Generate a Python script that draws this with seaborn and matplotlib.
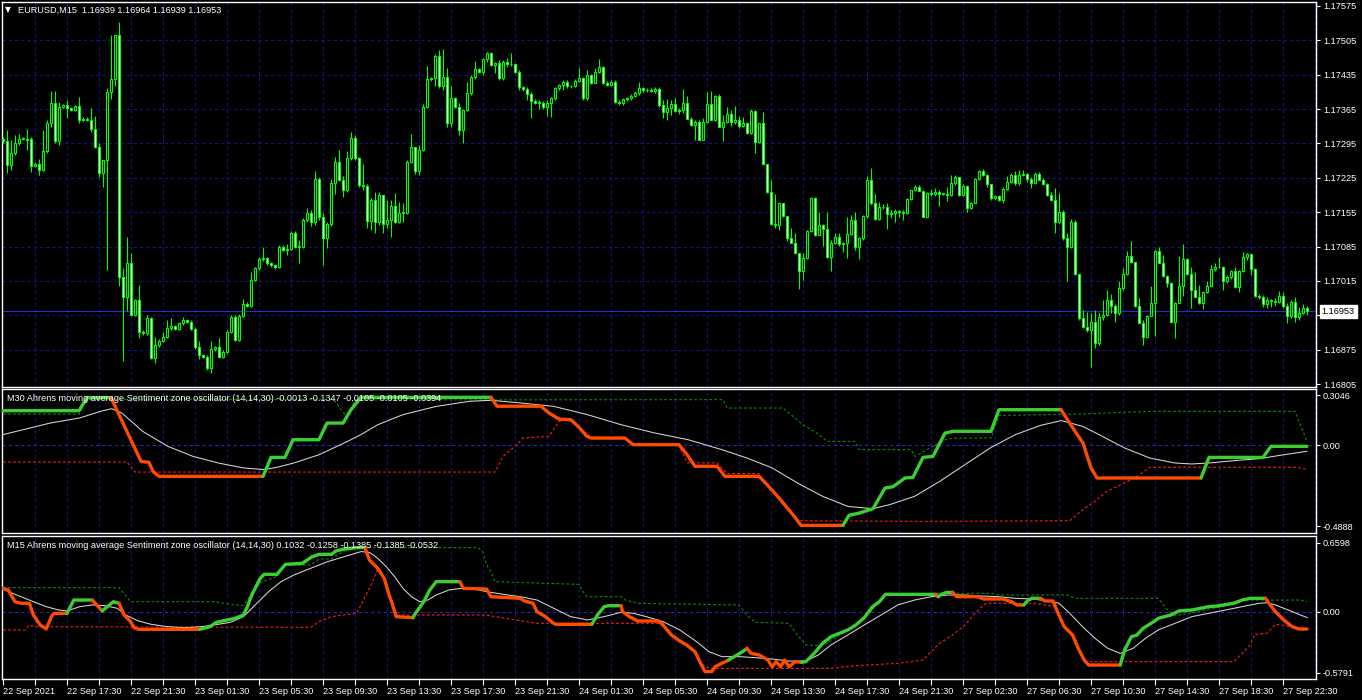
import matplotlib
matplotlib.use("Agg")
import matplotlib.pyplot as plt
import numpy as np
import seaborn as sns

sns.set_theme(style="dark", rc={"axes.facecolor": "black", "figure.facecolor": "black"})
plt.rcParams["font.family"] = ["Liberation Sans", "DejaVu Sans"]

# ---------------- data ----------------
symbol_title = "EURUSD,M15  1.16939 1.16964 1.16939 1.16953"
m30_title = ("M30 Ahrens moving average Sentiment zone oscillator (14,14,30) "
             "-0.0013 -0.1347 -0.0105 -0.0105 -0.0394")
m15_title = ("M15 Ahrens moving average Sentiment zone oscillator (14,14,30) "
             "0.1032 -0.1258 -0.1385 -0.1385 -0.0532")

time_labels = ["22 Sep 2021", "22 Sep 17:30", "22 Sep 21:30", "23 Sep 01:30", "23 Sep 05:30",
               "23 Sep 09:30", "23 Sep 13:30", "23 Sep 17:30", "23 Sep 21:30", "24 Sep 01:30",
               "24 Sep 05:30", "24 Sep 09:30", "24 Sep 13:30", "24 Sep 17:30", "24 Sep 21:30",
               "27 Sep 02:30", "27 Sep 06:30", "27 Sep 10:30", "27 Sep 14:30", "27 Sep 18:30",
               "27 Sep 22:30"]
price_ticks = [1.17575, 1.17505, 1.17435, 1.17365, 1.17295, 1.17225, 1.17155,
               1.17085, 1.17015, 1.16945, 1.16875, 1.16805]
bid = 1.16953
first_open = 1.17305

# M15 closes, one per bar
closes = [
    1.17299, 1.17251, 1.17275, 1.17295, 1.17305, 1.17305, 1.17303, 1.17249, 1.17254, 1.17241,
    1.17280, 1.17336, 1.17377, 1.17299, 1.17370, 1.17373, 1.17367, 1.17364, 1.17371, 1.17343,
    1.17345, 1.17343, 1.17324, 1.17288, 1.17235, 1.17261, 1.17400, 1.17426, 1.17516, 1.17024,
    1.16982, 1.17051, 1.16946, 1.16976, 1.16912, 1.16908, 1.16939, 1.16859, 1.16884, 1.16893,
    1.16901, 1.16920, 1.16923, 1.16918, 1.16929, 1.16935, 1.16932, 1.16918, 1.16880, 1.16864,
    1.16861, 1.16837, 1.16876, 1.16880, 1.16861, 1.16871, 1.16912, 1.16942, 1.16895, 1.16944,
    1.16969, 1.16964, 1.17017, 1.17041, 1.17059, 1.17061, 1.17051, 1.17047, 1.17043, 1.17085,
    1.17078, 1.17081, 1.17113, 1.17085, 1.17085, 1.17140, 1.17154, 1.17136, 1.17222, 1.17146,
    1.17102, 1.17131, 1.17215, 1.17258, 1.17221, 1.17200, 1.17265, 1.17307, 1.17265, 1.17210,
    1.17208, 1.17138, 1.17180, 1.17136, 1.17190, 1.17131, 1.17140, 1.17168, 1.17136, 1.17154,
    1.17154, 1.17258, 1.17288, 1.17238, 1.17282, 1.17370, 1.17426, 1.17428, 1.17473, 1.17412,
    1.17431, 1.17336, 1.17387, 1.17369, 1.17322, 1.17364, 1.17397, 1.17430, 1.17446, 1.17441,
    1.17466, 1.17479, 1.17455, 1.17458, 1.17428, 1.17460, 1.17456, 1.17456, 1.17441, 1.17409,
    1.17405, 1.17396, 1.17382, 1.17378, 1.17378, 1.17369, 1.17378, 1.17387, 1.17407, 1.17414,
    1.17421, 1.17411, 1.17412, 1.17423, 1.17428, 1.17387, 1.17434, 1.17419, 1.17441, 1.17450,
    1.17419, 1.17414, 1.17421, 1.17380, 1.17377, 1.17385, 1.17387, 1.17392, 1.17398, 1.17407,
    1.17403, 1.17404, 1.17402, 1.17405, 1.17373, 1.17360, 1.17367, 1.17375, 1.17362, 1.17363,
    1.17377, 1.17344, 1.17333, 1.17339, 1.17303, 1.17339, 1.17375, 1.17343, 1.17392, 1.17329,
    1.17339, 1.17355, 1.17338, 1.17343, 1.17331, 1.17336, 1.17316, 1.17362, 1.17297, 1.17336,
    1.17253, 1.17197, 1.17131, 1.17129, 1.17173, 1.17147, 1.17102, 1.17093, 1.17072, 1.17036,
    1.17061, 1.17117, 1.17183, 1.17109, 1.17129, 1.17120, 1.17063, 1.17092, 1.17104, 1.17090,
    1.17093, 1.17111, 1.17139, 1.17085, 1.17102, 1.17147, 1.17221, 1.17173, 1.17142, 1.17165,
    1.17166, 1.17151, 1.17153, 1.17158, 1.17156, 1.17154, 1.17181, 1.17200, 1.17207, 1.17199,
    1.17146, 1.17195, 1.17192, 1.17197, 1.17193, 1.17192, 1.17190, 1.17214, 1.17226, 1.17190,
    1.17208, 1.17163, 1.17174, 1.17222, 1.17238, 1.17231, 1.17212, 1.17183, 1.17187, 1.17180,
    1.17202, 1.17217, 1.17231, 1.17214, 1.17231, 1.17233, 1.17222, 1.17214, 1.17233, 1.17221,
    1.17212, 1.17190, 1.17180, 1.17136, 1.17156, 1.17102, 1.17085, 1.17134, 1.17029, 1.16939,
    1.16922, 1.16915, 1.16932, 1.16888, 1.16942, 1.16946, 1.16977, 1.16964, 1.16949, 1.17000,
    1.17029, 1.17066, 1.17054, 1.16963, 1.16930, 1.16901, 1.16944, 1.16971, 1.17075, 1.17052,
    1.17025, 1.17011, 1.16932, 1.16971, 1.17005, 1.17059, 1.17030, 1.16996, 1.16983, 1.16971,
    1.16993, 1.17005, 1.17039, 1.17044, 1.17043, 1.17014, 1.17022, 1.17036, 1.17003, 1.17036,
    1.17063, 1.17069, 1.17039, 1.16984, 1.16982, 1.16969, 1.16977, 1.16975, 1.16973, 1.16984,
    1.16964, 1.16944, 1.16973, 1.16941, 1.16949, 1.16959, 1.16953]

# wick lengths beyond the body, in pips
upper_wick = [
    0.3, 2.4, 2.7, 1.7, 1.0, 0.3, 2.0, 0.5, 0.3, 1.0,
    4.3, 0.7, 2.4, 2.4, 1.0, 0.3, 1.0, 0.3, 0.3, 1.9,
    0.3, 0.3, 2.4, 2.6, 0.7, 0.0, 0.7, 9.0, 0.0, 2.7,
    1.7, 5.4, 2.0, 0.3, 3.0, 0.3, 0.7, 0.3, 1.7, 0.3,
    1.0, 1.5, 1.6, 0.3, 0.3, 0.7, 0.3, 0.3, 0.3, 1.2,
    0.3, 0.3, 1.6, 0.3, 1.8, 0.3, 0.3, 0.3, 0.3, 0.3,
    1.0, 0.3, 1.7, 0.3, 0.5, 2.4, 0.3, 0.3, 0.3, 0.3,
    0.3, 1.0, 0.3, 0.3, 1.4, 0.3, 0.9, 0.5, 1.6, 0.5,
    0.7, 0.5, 0.7, 1.0, 2.4, 0.7, 1.4, 1.2, 0.5, 0.3,
    4.3, 0.5, 0.3, 1.7, 0.7, 0.0, 3.9, 1.2, 2.6, 2.2,
    1.9, 0.3, 2.7, 0.0, 1.0, 0.5, 2.6, 0.3, 0.5, 1.2,
    5.6, 1.7, 2.4, 0.3, 0.8, 0.2, 2.4, 0.5, 1.6, 0.3,
    0.2, 0.3, 0.3, 0.3, 0.7, 0.5, 0.9, 2.4, 0.3, 0.3,
    0.3, 0.5, 0.3, 0.3, 0.5, 0.3, 0.5, 0.3, 0.3, 0.3,
    0.3, 0.3, 0.3, 0.3, 2.0, 0.3, 1.0, 0.3, 0.7, 1.6,
    0.3, 0.3, 0.3, 0.3, 0.3, 0.3, 0.3, 0.3, 0.3, 1.4,
    0.3, 0.3, 0.3, 0.5, 0.5, 1.0, 1.8, 0.8, 1.2, 0.5,
    2.9, 1.5, 0.5, 0.3, 0.3, 0.7, 2.5, 2.7, 0.2, 0.3,
    1.4, 1.4, 0.8, 2.8, 0.7, 1.2, 0.1, 0.3, 0.1, 0.0,
    2.4, 0.0, 2.4, 6.1, 0.3, 0.0, 0.0, 2.0, 1.9, 0.0,
    1.0, 0.2, 0.3, 0.3, 2.7, 0.2, 3.6, 0.7, 0.8, 0.8,
    0.2, 3.5, 1.0, 1.7, 0.3, 0.2, 0.7, 2.4, 2.0, 1.0,
    0.5, 0.7, 0.7, 0.3, 0.2, 0.3, 0.2, 0.1, 0.3, 0.3,
    0.2, 0.2, 0.8, 0.7, 0.3, 0.2, 1.5, 1.7, 0.5, 0.1,
    0.5, 0.2, 0.2, 0.2, 0.3, 0.5, 0.2, 0.1, 0.3, 0.3,
    0.5, 1.2, 0.3, 0.7, 1.0, 0.8, 0.1, 0.5, 0.3, 0.3,
    0.3, 0.3, 0.7, 2.4, 3.9, 0.3, 1.0, 0.7, 0.5, 0.1,
    1.7, 3.0, 1.7, 2.4, 0.7, 3.0, 1.9, 1.2, 0.5, 1.4,
    1.2, 0.9, 3.1, 0.0, 1.7, 0.5, 0.2, 3.4, 0.3, 0.9,
    1.5, 0.2, 0.2, 0.2, 6.1, 3.1, 0.2, 1.4, 3.7, 2.4,
    0.2, 0.9, 0.9, 0.7, 2.0, 0.3, 0.5, 0.1, 0.8, 0.1,
    1.0, 0.3, 0.1, 0.2, 0.4, 0.5, 0.5, 0.2, 0.5, 1.1,
    0.8, 0.7, 0.3, 1.0, 1.2, 1.0, 0.4]
lower_wick = [
    0.3, 1.7, 1.0, 0.3, 0.3, 0.3, 2.2, 1.2, 0.3, 1.0,
    0.3, 0.5, 0.7, 0.3, 0.7, 0.3, 2.0, 0.3, 0.3, 0.7,
    0.3, 0.3, 0.5, 0.3, 0.8, 2.9, 22.4, 1.4, 1.5, 2.0,
    13.0, 2.9, 0.0, 0.3, 1.4, 0.3, 0.3, 0.3, 1.2, 0.3,
    0.3, 0.3, 0.5, 0.3, 0.3, 0.3, 0.3, 0.3, 0.3, 0.7,
    0.3, 0.3, 1.0, 0.3, 0.3, 0.3, 0.3, 0.3, 0.3, 0.3,
    0.3, 0.3, 0.3, 0.3, 0.3, 0.3, 0.3, 0.3, 0.3, 0.2,
    0.3, 1.0, 0.3, 0.3, 3.4, 0.3, 0.5, 1.0, 0.7, 0.7,
    5.4, 2.0, 0.5, 2.2, 0.3, 1.4, 0.3, 0.3, 0.3, 0.3,
    0.8, 1.6, 1.9, 2.4, 0.7, 1.9, 0.9, 3.5, 0.3, 0.3,
    1.8, 0.3, 0.3, 0.5, 0.7, 0.3, 0.3, 0.3, 1.7, 0.5,
    0.8, 0.7, 0.7, 0.2, 1.0, 2.7, 0.2, 0.3, 0.4, 0.3,
    0.7, 0.5, 0.3, 1.7, 0.3, 0.3, 0.5, 0.3, 0.3, 0.5,
    0.3, 1.2, 3.6, 0.3, 1.2, 0.3, 1.9, 2.9, 0.3, 0.3,
    1.0, 0.3, 0.3, 0.3, 0.2, 0.3, 0.3, 0.3, 0.1, 0.3,
    0.3, 0.3, 0.3, 0.3, 0.3, 0.3, 0.3, 0.3, 0.3, 0.5,
    0.3, 0.3, 0.3, 0.5, 0.3, 1.4, 1.7, 1.4, 0.4, 0.7,
    0.7, 0.0, 0.2, 3.2, 0.1, 0.0, 0.3, 0.0, 0.3, 0.1,
    3.0, 0.2, 0.7, 0.3, 0.5, 0.3, 0.1, 0.1, 2.2, 0.1,
    0.0, 0.3, 0.2, 0.7, 1.0, 0.1, 0.5, 0.0, 0.1, 3.8,
    2.0, 0.2, 0.3, 0.3, 0.0, 3.4, 0.2, 2.7, 0.1, 0.4,
    1.6, 3.1, 0.2, 0.7, 2.6, 0.3, 0.3, 0.3, 0.3, 0.2,
    0.3, 3.1, 0.8, 1.9, 1.0, 1.5, 0.3, 0.1, 0.2, 0.0,
    0.1, 0.0, 0.5, 0.5, 2.6, 0.3, 1.2, 0.2, 0.3, 0.3,
    0.2, 0.7, 0.2, 0.0, 0.1, 0.2, 0.5, 0.3, 0.4, 0.3,
    0.7, 0.1, 0.3, 0.3, 0.3, 0.3, 0.5, 1.0, 0.1, 0.1,
    0.2, 0.2, 0.3, 2.4, 0.3, 0.3, 7.0, 0.3, 0.2, 0.3,
    0.3, 0.3, 7.5, 1.0, 0.3, 0.7, 0.3, 1.5, 1.7, 0.3,
    0.3, 0.2, 0.2, 0.1, 0.1, 1.7, 0.1, 0.1, 6.9, 0.1,
    0.1, 0.8, 0.0, 3.4, 0.1, 2.0, 0.3, 3.7, 0.0, 0.3,
    1.4, 0.3, 0.1, 0.3, 0.2, 1.7, 0.3, 0.3, 0.3, 1.0,
    0.2, 0.5, 1.2, 0.1, 0.4, 0.7, 1.0, 1.4, 1.0, 0.2,
    0.5, 1.4, 0.5, 0.9, 0.5, 0.1, 0.8]

# M30 oscillator: main line (bar, value, rising flag), signal, upper and lower zones
m30_main_bar = [0, 19, 21, 27, 34.5, 36.5, 37.5, 39, 65, 67, 70.5, 72.5, 79, 81, 85, 87, 89.5, 122,
                123.5, 134.5, 136.5, 139, 142, 144, 146, 147, 155.5, 157.5, 169, 171, 173, 178.5,
                180.5, 189, 191, 194, 197.5, 199.5, 210, 211.5, 214, 217.5, 220.5, 222.5, 225.5,
                227.5, 230, 232.5, 235.5, 237.5, 247, 249, 264.5, 268, 270, 272, 273.5, 299.5,
                301.5, 315, 317, 326]
m30_main_val = [0.211, 0.211, 0.290, 0.290, -0.096, -0.102, -0.157, -0.187, -0.187, -0.072, -0.072,
                0.035, 0.035, 0.136, 0.136, 0.217, 0.292, 0.292, 0.238, 0.238, 0.197, 0.160, 0.156,
                0.110, 0.055, 0.045, 0.045, 0.005, 0.005, -0.055, -0.126, -0.126, -0.187, -0.187,
                -0.237, -0.318, -0.420, -0.484, -0.484, -0.423, -0.410, -0.383, -0.258, -0.250,
                -0.197, -0.193, -0.072, -0.066, 0.075, 0.086, 0.086, 0.217, 0.217, 0.086, 0.015,
                -0.136, -0.197, -0.197, -0.072, -0.072, -0.005, -0.005]
m30_main_up = [1, 1, 1, 1, 0, 0, 0, 0, 0, 1, 1, 1, 1, 1, 1, 1, 1, 1,
               0, 0, 0, 0, 0, 0, 0, 0, 0, 0, 0, 0, 0, 0, 0, 0, 0, 0, 0, 0, 0,
               1, 1, 1, 1, 1, 1, 1, 1, 1, 1, 1, 1, 1, 1,
               0, 0, 0, 0, 0, 1, 1, 1, 1]
m30_sig_bar = [0, 11.8, 19.2, 24.4, 27.2, 29.7, 34.9, 41.2, 47.5, 53.8, 60.1, 65.3, 68.5, 72.7, 79,
               85.3, 89.5, 93.7, 100, 108.3, 116.7, 122, 129.3, 137.7, 146.1, 154.5, 162.9, 171.3,
               179.7, 186, 192.3, 198.6, 204.9, 211.2, 217.4, 221.6, 227.9, 234.2, 240.5, 246.8,
               253.1, 259.4, 264.6, 269.9, 274, 280.4, 286.7, 293, 297.2, 301.4, 307.7, 314, 320.2, 326]
m30_sig_val = [0.066, 0.136, 0.167, 0.207, 0.223, 0.197, 0.086, -0.005, -0.066, -0.106, -0.136,
               -0.146, -0.132, -0.106, -0.056, 0.015, 0.066, 0.126, 0.187, 0.237, 0.268, 0.274,
               0.258, 0.237, 0.187, 0.126, 0.076, 0.035, -0.025, -0.076, -0.136, -0.227, -0.308,
               -0.369, -0.383, -0.359, -0.308, -0.217, -0.116, -0.015, 0.066, 0.122, 0.151, 0.116,
               0.066, -0.015, -0.076, -0.106, -0.112, -0.106, -0.092, -0.080, -0.056, -0.035]
m30_up_bar = [0, 19, 21, 82, 83, 86, 88, 180, 181, 195, 197, 200, 204, 206, 213, 214, 227, 228,
              235.5, 237.5, 247, 249, 268, 287, 323, 326]
m30_up_val = [0.190, 0.190, 0.280, 0.280, 0.268, 0.170, 0.276, 0.278, 0.227, 0.227, 0.187, 0.126,
              0.066, 0.025, 0.025, -0.025, -0.025, -0.066, 0.035, 0.045, 0.045, 0.182, 0.190,
              0.207, 0.207, 0.025]
m30_dn_bar = [0, 31, 33, 123, 125, 128, 130, 136.5, 139, 142, 144, 147, 155.5, 157.5, 169, 171,
              178.5, 181, 189, 191, 198.6, 230, 266.7, 270, 273, 276, 280.4, 283.5, 286.7, 323.4, 326]
m30_dn_val = [-0.100, -0.100, -0.161, -0.161, -0.066, -0.005, 0.045, 0.056, 0.146, 0.156, 0.110,
              0.050, 0.050, 0.005, 0.005, -0.105, -0.105, -0.170, -0.170, -0.237, -0.456, -0.460,
              -0.456, -0.389, -0.338, -0.278, -0.227, -0.187, -0.132, -0.132, -0.146]

# M15 oscillator
m15_main_bar = [
    0, 1.3, 3.0, 4.5, 6.6, 7.6, 9.3, 10.8, 12.3, 12.9,
    16.0, 17.7, 22.3, 23.8, 24.8, 26.1, 27.6, 29.0, 30.3, 31.8,
    32.8, 33.9, 49.2, 51.7, 53.4, 54.8, 58.0, 60.1, 61.1, 62.2,
    64.3, 65.3, 68.5, 70.6, 74.8, 77.3, 79.0, 82.1, 83.2, 85.3,
    88.4, 90.5, 91.6, 93.7, 95.3, 96.4, 97.4, 98.3, 102.5, 103.1,
    105.2, 106.7, 108.3, 114.2, 115.1, 120.9, 122.0, 129.3, 130.4, 132.5,
    133.5, 135.6, 137.3, 138.1, 147.2, 148.6, 150.3, 151.4, 154.5, 154.9,
    156.6, 158.7, 163.9, 165.0, 167.1, 169.2, 170.9, 173.0, 174.4, 175.5,
    177.2, 178.0, 179.7, 181.4, 182.8, 184.9, 186.0, 187.0, 189.1, 191.2,
    192.3, 193.3, 194.4, 195.4, 196.5, 198.1, 199.6, 200.7, 202.8, 204.9,
    207.0, 209.1, 211.2, 213.2, 215.3, 217.4, 219.1, 220.6, 233.2, 233.8,
    234.6, 235.9, 237.4, 238.4, 243.7, 245.1, 249.9, 252.1, 253.5, 255.2,
    256.3, 257.3, 259.4, 260.5, 262.5, 263.6, 265.3, 267.4, 268.8, 270.3,
    271.4, 279.3, 280.4, 282.1, 283.5, 285.0, 287.7, 288.8, 291.9, 294.0,
    297.2, 299.3, 301.4, 303.5, 305.1, 307.7, 309.8, 311.8, 315.6, 316.5,
    318.1, 320.2, 322.3, 324.0, 326.0]
m15_main_val = [
    0.225, 0.210, 0.098, 0.083, 0.083, -0.029, -0.124, -0.162, -0.029, -0.013,
    -0.013, 0.114, 0.114, 0.051, 0.010, 0.051, 0.098, 0.083, -0.029, -0.086,
    -0.149, -0.165, -0.165, -0.140, -0.098, -0.086, -0.060, -0.029, 0.051, 0.162,
    0.321, 0.359, 0.359, 0.454, 0.463, 0.527, 0.549, 0.549, 0.581, 0.600,
    0.613, 0.613, 0.495, 0.416, 0.321, 0.178, 0.067, -0.044, -0.054, -0.013,
    0.098, 0.210, 0.289, 0.289, 0.225, 0.219, 0.146, 0.130, 0.105, 0.083,
    0.003, -0.044, -0.098, -0.117, -0.117, -0.029, 0.051, 0.060, 0.060, 0.003,
    -0.044, -0.086, -0.086, -0.124, -0.219, -0.276, -0.314, -0.378, -0.489, -0.568,
    -0.568, -0.521, -0.489, -0.457, -0.425, -0.378, -0.346, -0.394, -0.410, -0.457,
    -0.521, -0.473, -0.521, -0.457, -0.521, -0.473, -0.479, -0.473, -0.394, -0.298,
    -0.235, -0.203, -0.171, -0.124, -0.054, 0.051, 0.098, 0.168, 0.168, 0.146,
    0.168, 0.187, 0.187, 0.146, 0.146, 0.124, 0.124, 0.098, 0.067, 0.067,
    0.114, 0.130, 0.130, 0.105, 0.105, 0.003, -0.140, -0.219, -0.346, -0.457,
    -0.505, -0.505, -0.362, -0.235, -0.219, -0.156, -0.092, -0.060, -0.029, 0.010,
    0.019, 0.035, 0.051, 0.057, 0.067, 0.083, 0.114, 0.130, 0.130, 0.083,
    0.003, -0.076, -0.140, -0.162, -0.162]
m15_main_up = [
    0, 0, 0, 0, 0, 0, 0, 0, 0, 0,
    0, 1, 1, 0, 0, 1, 1, 1, 0, 0,
    0, 0, 0, 1, 1, 1, 1, 1, 1, 1,
    1, 1, 1, 1, 1, 1, 1, 1, 1, 1,
    1, 1, 0, 0, 0, 0, 0, 0, 0, 1,
    1, 1, 1, 1, 0, 0, 0, 0, 0, 0,
    0, 0, 0, 0, 0, 1, 1, 1, 1, 0,
    0, 0, 0, 0, 0, 0, 0, 0, 0, 0,
    0, 0, 0, 0, 1, 1, 1, 0, 0, 0,
    0, 0, 0, 0, 0, 0, 0, 1, 1, 1,
    1, 1, 1, 1, 1, 1, 1, 1, 1, 0,
    1, 1, 1, 0, 0, 0, 0, 0, 0, 0,
    1, 1, 1, 0, 0, 0, 0, 0, 0, 0,
    0, 0, 1, 1, 1, 1, 1, 1, 1, 1,
    1, 1, 1, 1, 1, 1, 1, 1, 1, 0,
    0, 0, 0, 0, 0]
m15_sig_bar = [0, 1.3, 4.5, 7.6, 10.8, 13.9, 16.0, 19.2, 22.3, 25.5, 28.6, 30.7, 33.9, 37.0, 41.2,
               45.4, 49.6, 53.8, 56.9, 60.1, 62.2, 64.3, 66.4, 69.5, 72.7, 76.9, 81.1, 85.3, 89.5,
               91.6, 93.7, 95.8, 97.9, 100, 102.1, 104.2, 106.2, 108.3, 111.5, 114.6, 117.8, 120.9,
               125.1, 129.3, 133.5, 137.7, 141.9, 146.1, 150.3, 154.5, 157.6, 160.8, 165.0, 169.2,
               173.4, 176.5, 179.7, 183.9, 188.1, 192.3, 196.5, 200.7, 203.8, 207.0, 211.2, 215.3,
               219.5, 223.7, 227.9, 232.1, 236.3, 240.5, 244.7, 248.9, 253.1, 257.3, 261.5, 264.0,
               266.7, 269.9, 273.0, 276.2, 279.3, 282.5, 285.6, 288.8, 293.0, 297.2, 301.4, 305.6,
               309.8, 314.0, 316.1, 318.1, 321.3, 324.4, 326.1]
m15_sig_val = [0.225, 0.194, 0.146, 0.098, 0.051, 0.019, 0.010, 0.051, 0.067, 0.060,
               0.035, -0.029, -0.086, -0.117, -0.140, -0.149, -0.140, -0.117, -0.098, -0.044,
               0.035, 0.114, 0.194, 0.289, 0.352, 0.416, 0.479, 0.527, 0.575, 0.568,
               0.511, 0.432, 0.337, 0.225, 0.146, 0.098, 0.114, 0.162, 0.210, 0.225,
               0.219, 0.194, 0.168, 0.146, 0.114, 0.035, -0.044, -0.076, -0.044, -0.003,
               -0.013, -0.044, -0.092, -0.171, -0.283, -0.378, -0.425, -0.425, -0.435, -0.448,
               -0.467, -0.467, -0.410, -0.314, -0.219, -0.124, -0.029, 0.067, 0.114, 0.146,
               0.162, 0.162, 0.152, 0.146, 0.130, 0.124, 0.105, 0.083, -0.013, -0.140,
               -0.251, -0.346, -0.394, -0.346, -0.251, -0.171, -0.108, -0.044, -0.013, 0.019,
               0.051, 0.083, 0.089, 0.067, 0.019, -0.029, -0.054]
m15_up_bar = [0, 29, 32, 53, 55, 60, 64.3, 68.5, 70.6, 76.9, 79, 82, 85.3, 89.5, 118.8, 119.9,
              120.9, 122, 123, 144, 145, 146, 154.5, 155.6, 158.7, 183.9, 186, 188, 196.5, 198.6,
              200.7, 204.9, 209.1, 215.3, 220.6, 234, 247, 249, 266, 268, 288.8, 290.9, 293,
              297.2, 301.4, 305.1, 309.8, 324.4, 326]
m15_up_val = [0.232, 0.232, 0.098, 0.098, 0.083, 0.060, 0.280, 0.340, 0.448, 0.448, 0.505, 0.505,
              0.580, 0.613, 0.613, 0.575, 0.448, 0.384, 0.289, 0.263, 0.194, 0.146, 0.146, 0.114,
              0.083, 0.067, -0.029, -0.098, -0.108, -0.219, -0.314, -0.320, -0.220, -0.070, 0.160,
              0.178, 0.178, 0.162, 0.162, 0.130, 0.130, 0.029, -0.035, -0.010, 0.030, 0.050,
              0.114, 0.114, 0.098]
m15_dn_bar = [0, 5.5, 6.5, 8, 76.9, 79, 82, 85.3, 88.4, 89.5, 91.6, 92.6, 93.7, 95.3, 96.4, 97.4,
              98.3, 120.9, 123, 133.5, 165, 167.1, 169.2, 170.9, 173, 174.4, 176.5, 207, 213,
              223.7, 230, 232, 234.2, 237.4, 240.5, 242.6, 244.7, 245.8, 258, 263, 265.3, 267.4,
              268.8, 270.3, 307.7, 309.8, 311.8, 312.9, 316, 318.1, 322.3, 326]
m15_dn_val = [-0.171, -0.171, -0.125, -0.140, -0.146, -0.092, -0.044, -0.029, -0.013, 0.067,
              0.225, 0.305, 0.416, 0.321, 0.178, 0.067, -0.029, -0.029, -0.044, -0.108,
              -0.108, -0.219, -0.276, -0.314, -0.378, -0.489, -0.537, -0.537, -0.511, -0.489,
              -0.457, -0.378, -0.298, -0.219, -0.124, -0.029, 0.051, 0.083, 0.083, 0.050,
              -0.140, -0.219, -0.346, -0.473, -0.473, -0.394, -0.314, -0.213, -0.203, -0.117,
              -0.140, -0.162]

m30_ticks, m30_tick_labels = [0.3046, 0.0, -0.4888], ["0.3046", "0.00", "-0.4888"]
m15_ticks, m15_tick_labels = [0.6598, 0.0, -0.5791], ["0.6598", "0.00", "-0.5791"]

# ---------------- styling ----------------
LIME = "#00ff00"
UP = "#3ccf32"
DOWN = "#ff4a00"
GRID = "#14148c"
FS = 6.6
W, H = 1362, 700

fig = plt.figure(figsize=(W / 100, H / 100), dpi=100, facecolor="black")


def px_axes(left, top, right, bottom):
    return fig.add_axes([left / W, 1 - bottom / H, (right - left) / W, (bottom - top) / H])


ax = px_axes(2, 2, 1316, 387)
ax1 = px_axes(2, 389, 1316, 533)
ax2 = px_axes(2, 536, 1316, 679)

n_bars = len(closes)
grid_bars = np.arange(8, 329, 8)
for a in (ax, ax1, ax2):
    a.set_facecolor("black")
    a.set_xlim(-0.25, 328.25)
    for s in a.spines.values():
        s.set_color("white")
        s.set_linewidth(1.0)
    a.vlines(grid_bars, 0, 1, transform=a.get_xaxis_transform(), colors=GRID,
             linestyles=(0, (3, 3)), linewidth=0.75, zorder=0.5)
    a.yaxis.tick_right()
    a.tick_params(axis="y", which="both", right=True, left=False, length=3, width=0.8,
                  color="white", labelcolor="white", labelsize=FS, pad=2)
    a.tick_params(axis="x", which="both", bottom=False, labelbottom=False)
    a.grid(False)

# ---- price panel ----
c = np.array(closes)
o = np.r_[first_open, c[:-1]]
x = np.arange(n_bars)
hi = np.maximum(o, c) + np.array(upper_wick) * 1e-4
lo = np.minimum(o, c) - np.array(lower_wick) * 1e-4
bull = c >= o
body = np.maximum(np.abs(c - o), 0.000012)

ax.hlines(price_ticks[1:-1], -0.25, 328.25, colors=GRID, linestyles=(0, (3, 3)),
          linewidth=0.75, zorder=0.5)
ax.vlines(x, lo, hi, colors=LIME, linewidth=0.8, zorder=2)
ax.bar(x[bull], body[bull], bottom=np.minimum(o, c)[bull], width=0.6, color="black",
       edgecolor=LIME, linewidth=0.8, zorder=3)
ax.bar(x[~bull], body[~bull], bottom=np.minimum(o, c)[~bull], width=0.6, color="white",
       edgecolor=LIME, linewidth=0.8, zorder=3)
ax.axhline(bid, color="#2a2ad0", linewidth=0.8, zorder=1)
ax.set_ylim(1.16799, 1.17583)
ax.set_yticks(price_ticks)
# the 1.16945 label sits under the bid price tag, as in the terminal
ax.set_yticklabels(["" if abs(p - bid) < 0.0002 else f"{p:.5f}" for p in price_ticks])
ax.annotate(f"{bid:.5f}", xy=(1.0, bid), xycoords=("axes fraction", "data"),
            xytext=(4, 0), textcoords="offset points", va="center", ha="left",
            color="black", fontsize=FS, annotation_clip=False, zorder=10,
            bbox=dict(boxstyle="square,pad=0.22", fc="white", ec="white"))
fig.text(5 / W, 1 - 10 / H, "\u25bc", color="white", fontsize=5.5, va="center",
         family=["DejaVu Sans"])
fig.text(18 / W, 1 - 10 / H, symbol_title, color="white", fontsize=FS, va="center")


# ---- oscillator panels ----
def draw_oscillator(a, main_bar, main_val, main_up, sig_bar, sig_val,
                    up_bar, up_val, dn_bar, dn_val):
    a.axhline(0.0, color="#2828d8", linewidth=0.75, linestyle=(0, (3, 3)), zorder=0.6)
    a.plot(up_bar, up_val, color="#0b8a0b", linewidth=0.8, linestyle=(0, (2.5, 2)), zorder=2)
    a.plot(dn_bar, dn_val, color="#ff1a1a", linewidth=0.8, linestyle=(0, (2.5, 2)), zorder=2)
    sns.lineplot(x=np.array(sig_bar), y=np.array(sig_val), ax=a, color="#d6d6d6",
                 linewidth=0.75, estimator=None, sort=False, legend=False, zorder=2.5)
    xs, ys = np.array(main_bar), np.array(main_val)
    k, n = 1, len(xs)
    while k < n:
        j = k
        while j + 1 < n and main_up[j + 1] == main_up[k]:
            j += 1
        sns.lineplot(x=xs[k - 1:j + 1], y=ys[k - 1:j + 1], ax=a,
                     color=UP if main_up[k] else DOWN, linewidth=2.4,
                     estimator=None, sort=False, legend=False, zorder=3,
                     solid_capstyle="round", solid_joinstyle="round")
        k = j + 1
    a.set_xlabel("")
    a.set_ylabel("")


draw_oscillator(ax1, m30_main_bar, m30_main_val, m30_main_up, m30_sig_bar, m30_sig_val,
                m30_up_bar, m30_up_val, m30_dn_bar, m30_dn_val)
ax1.set_ylim(-0.5303, 0.3424)
ax1.set_yticks(m30_ticks)
ax1.set_yticklabels(m30_tick_labels)
fig.text(7 / W, 1 - 398 / H, m30_title, color="white", fontsize=FS, va="center", zorder=10)

draw_oscillator(ax2, m15_main_bar, m15_main_val, m15_main_up, m15_sig_bar, m15_sig_val,
                m15_up_bar, m15_up_val, m15_dn_bar, m15_dn_val)
ax2.set_ylim(-0.6381, 0.7238)
ax2.set_yticks(m15_ticks)
ax2.set_yticklabels(m15_tick_labels)
fig.text(7 / W, 1 - 545 / H, m15_title, color="white", fontsize=FS, va="center", zorder=10)

# ---- time axis ----
label_pos = np.arange(len(time_labels)) * 16
ax2.set_xticks(label_pos)
ax2.set_xticklabels(time_labels, ha="left")
ax2.set_xticks(label_pos[:-1] + 8, minor=True)
ax2.tick_params(axis="x", which="both", bottom=True, labelbottom=True, length=4, width=0.8,
                color="white", labelcolor="white", labelsize=FS, pad=2, direction="out")
ax2.set_xlim(-0.25, 328.25)

fig.savefig("out.png", dpi=100, facecolor="black")
